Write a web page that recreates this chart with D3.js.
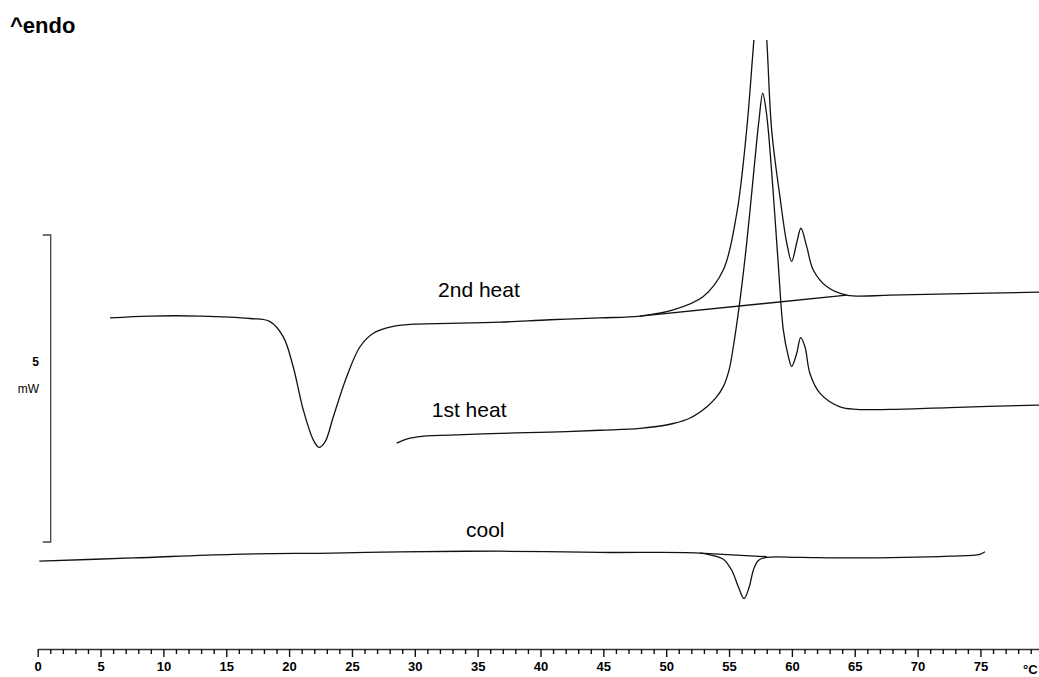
<!DOCTYPE html>
<html>
<head>
<meta charset="utf-8">
<script src="https://cdn.jsdelivr.net/npm/d3@7"></script>
<style>
  body { margin: 0; background: #fff; }
  svg { display: block; font-family: "Liberation Sans", Arial, sans-serif; }
</style>
</head>
<body>
<div id="viz"></div>
<script>
// temperature (°C) and heat flow (mW, arbitrary offset)
const heat2Temp = [5.75, 8.93, 12.92, 16.89, 18.48, 19.54, 20.33, 21.13, 21.93, 22.38, 22.86, 23.52, 24.58, 25.64, 26.70, 28.29, 30.15, 32.80, 36.78, 40.76, 44.73, 47.92, 50.56, 52.95, 54.54, 55.61, 56.40, 56.98, 57.54, 58.00, 58.39, 59.05, 59.59, 59.98, 60.38, 60.72, 61.18, 61.70, 62.77, 64.36, 67.80, 72.57, 79.66];
const heat2Flow = [3.65, 3.68, 3.68, 3.64, 3.59, 3.34, 2.85, 2.15, 1.66, 1.54, 1.63, 2.04, 2.69, 3.18, 3.40, 3.51, 3.55, 3.56, 3.58, 3.62, 3.65, 3.68, 3.78, 4.00, 4.43, 5.35, 6.71, 8.18, 9.48, 8.18, 6.71, 5.62, 4.87, 4.57, 4.87, 5.11, 4.81, 4.43, 4.16, 4.02, 4.02, 4.04, 4.07];
const heat2BaseTemp = [47.92, 64.36];
const heat2BaseFlow = [3.68, 4.02];

const heat1Temp = [28.56, 29.62, 30.95, 32.80, 36.78, 40.76, 44.73, 47.92, 50.56, 51.90, 53.22, 53.96, 54.54, 55.00, 55.34, 55.87, 56.43, 56.98, 57.38, 57.68, 57.94, 58.12, 58.50, 58.92, 59.32, 59.72, 59.98, 60.38, 60.70, 61.04, 61.44, 62.24, 63.83, 65.16, 67.80, 72.57, 79.66];
const heat1Flow = [1.61, 1.69, 1.73, 1.74, 1.77, 1.79, 1.82, 1.85, 1.93, 2.02, 2.20, 2.35, 2.53, 2.80, 3.18, 3.94, 4.92, 6.06, 6.87, 7.31, 7.04, 6.71, 5.73, 4.51, 3.45, 3.02, 2.86, 3.07, 3.33, 3.18, 2.74, 2.42, 2.20, 2.16, 2.16, 2.19, 2.23];

const coolTemp = [0.13, 7.58, 15.56, 23.49, 28.82, 36.78, 44.73, 52.69, 53.49, 54.54, 55.21, 55.74, 56.19, 56.61, 56.93, 57.33, 58.00, 60.65, 64.63, 72.57, 74.96, 75.36];
const coolFlow = [-0.31, -0.26, -0.20, -0.18, -0.16, -0.15, -0.17, -0.18, -0.21, -0.28, -0.46, -0.73, -0.92, -0.73, -0.46, -0.30, -0.25, -0.25, -0.26, -0.23, -0.20, -0.16];
const coolBaseTemp = [52.69, 58.00];
const coolBaseFlow = [-0.18, -0.24];

const curveLabels = ["2nd heat", "1st heat", "cool"];
const labelTemp = [31.85, 31.35, 34.07];
const labelFlow = [3.99, 2.04, 0.08];

const xTicks = d3.range(0, 81, 1);
const scaleBarFlow = [0, 5];

const width = 1039, height = 677;

const svg = d3.select("#viz")
    .append("svg")
    .attr("width", width)
    .attr("height", height);

const x = d3.scaleLinear().domain([0, 80]).range([37.7, 1043.3]);
const y = d3.scaleLinear().domain([0, 5]).range([542, 235]);

svg.append("defs").append("clipPath")
    .attr("id", "plot")
    .append("rect")
    .attr("x", 0).attr("y", 40)
    .attr("width", width).attr("height", 600);

const line = d3.line()
    .x(d => x(d[0]))
    .y(d => y(d[1]))
    .curve(d3.curveCatmullRom.alpha(0.5));

const zip = (a, b) => a.map((v, i) => [v, b[i]]);

const traces = [
    zip(heat2Temp, heat2Flow),
    zip(heat2BaseTemp, heat2BaseFlow),
    zip(heat1Temp, heat1Flow),
    zip(coolTemp, coolFlow),
    zip(coolBaseTemp, coolBaseFlow)
];

svg.append("g")
    .attr("clip-path", "url(#plot)")
    .selectAll("path")
    .data(traces)
    .enter()
    .append("path")
    .attr("fill", "none")
    .attr("stroke", "#111")
    .attr("stroke-width", 1.3)
    .attr("d", line);

// curve names
svg.selectAll(".lbl")
    .data(curveLabels)
    .enter()
    .append("text")
    .attr("class", "lbl")
    .attr("x", (d, i) => x(labelTemp[i]))
    .attr("y", (d, i) => y(labelFlow[i]))
    .attr("font-size", 21)
    .attr("fill", "#000")
    .text(d => d);

// temperature axis
const axis = svg.append("g")
    .attr("transform", "translate(0,649)")
    .call(d3.axisBottom(x)
        .tickValues(xTicks)
        .tickSize(5)
        .tickSizeOuter(0)
        .tickPadding(8)
        .tickFormat(d => d % 5 === 0 && d < 80 ? d : ""));

axis.select(".domain").attr("stroke", "#333").attr("stroke-width", 1.5);
axis.selectAll(".tick line").attr("stroke", "#111").attr("stroke-width", 1.4);
axis.selectAll(".tick").filter(d => d % 5 === 0).select("line").attr("y2", 8);
axis.selectAll(".tick text")
    .attr("font-size", 13)
    .attr("font-weight", "bold")
    .attr("fill", "#000")
    .attr("y", 13);

svg.append("text")
    .attr("x", 1023)
    .attr("y", 674)
    .attr("font-size", 13)
    .attr("font-weight", "bold")
    .text("°C");

// 5 mW scale bar
const bar = svg.append("g");
bar.append("path")
    .attr("fill", "none")
    .attr("stroke", "#444")
    .attr("stroke-width", 1.3)
    .attr("d", `M42.7,${y(scaleBarFlow[1])}H50.7V${y(scaleBarFlow[0])}H42.7`);
bar.append("text")
    .attr("x", 39).attr("y", 366)
    .attr("text-anchor", "end")
    .attr("font-size", 12)
    .attr("font-weight", "bold")
    .text("5");
bar.append("text")
    .attr("x", 39).attr("y", 393)
    .attr("text-anchor", "end")
    .attr("font-size", 12)
    .text("mW");

svg.append("text")
    .attr("x", 10)
    .attr("y", 33)
    .attr("font-size", 22)
    .attr("font-weight", "bold")
    .text("^endo");
</script>
</body>
</html>
